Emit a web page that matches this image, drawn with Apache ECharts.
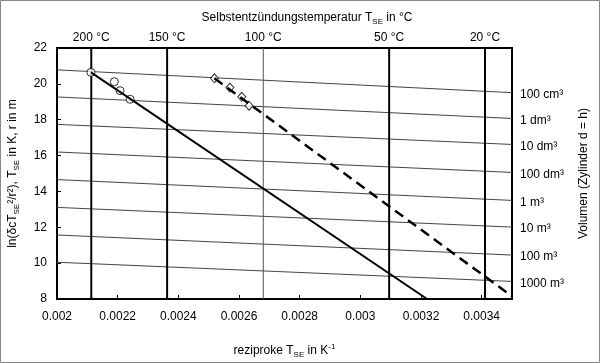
<!DOCTYPE html>
<html><head><meta charset="utf-8">
<script src="https://cdn.jsdelivr.net/npm/echarts@6/dist/echarts.min.js"></script>
<style>html,body{margin:0;padding:0;background:#fff}#c{width:600px;height:363px}</style>
</head><body><div id="c"></div>
<script>
// ---- data ----
const xTickMin = 0.002, xTickMax = 0.0035, xTickStep = 0.0002;
const yTickMin = 8, yTickMax = 22, yTickStep = 2;

const tempLabels = ['200 °C', '150 °C', '100 °C', '50 °C', '20 °C'];
const tempRecip  = [0.002113, 0.002363, 0.00268, 0.003095, 0.003411];

const volumeNames = ['100 cm³', '1 dm³', '10 dm³', '100 dm³', '1 m³', '10 m³', '100 m³', '1000 m³'];
const volumeX     = [0.002, 0.0035];
const volumeLeft  = [20.78, 19.27, 17.74, 16.20, 14.66, 13.11, 11.57, 10.05];
const volumeRight = [19.51, 18.07, 16.62, 15.06, 13.50, 12.01, 10.45, 8.98];

const circleX = [0.002112, 0.002189, 0.002208, 0.002241];
const circleY = [20.64, 20.12, 19.62, 19.14];
const diamondX = [0.002519, 0.002570, 0.002609, 0.002633];
const diamondY = [20.31, 19.79, 19.28, 18.78];

const solidX = [0.002112, 0.00322];
const solidY = [20.64, 8.0];
const dashX = [0.002519, 0.0035];
const dashY = [20.31, 8.15];

// ---- build chart ----
const FONT = 'Liberation Sans, Arial, sans-serif';
const rich = {
  n: {fontSize: 12, fontFamily: FONT, color: '#000', lineHeight: 16, verticalAlign: 'middle', fontWeight: 'normal'},
  sub: {fontSize: 8, fontFamily: FONT, color: '#000', lineHeight: 16, verticalAlign: 'bottom', fontWeight: 'normal'},
  sup: {fontSize: 8, fontFamily: FONT, color: '#000', lineHeight: 16, verticalAlign: 'top', fontWeight: 'normal'}
};
const zip = (a, b) => a.map((v, i) => [v, b[i]]);

const series = [];
volumeNames.forEach((name, i) => {
  const pts = zip(volumeX, [volumeLeft[i], volumeRight[i]]);
  series.push({
    type: 'line', name: name, symbol: 'circle', symbolSize: 0, showSymbol: true, silent: true, z: 2,
    lineStyle: {color: '#444', width: 1},
    itemStyle: {color: '#444'},
    data: [pts[0], {value: pts[1], label: {show: true, position: 'right', distance: 8, offset: [0, 2],
      formatter: name, color: '#000', fontSize: 12, fontFamily: FONT}}]
  });
});
tempLabels.forEach((lab, i) => {
  const thin = lab === '100 °C';
  series.push({
    type: 'line', name: lab, symbol: 'circle', symbolSize: 0, showSymbol: true, silent: true, z: 3,
    lineStyle: {color: thin ? '#555' : '#000', width: thin ? 1 : 2},
    itemStyle: {color: '#000'},
    data: [[tempRecip[i], yTickMin], {value: [tempRecip[i], yTickMax], label: {show: true, position: 'top', distance: 4,
      formatter: lab, color: '#000', fontSize: 12, fontFamily: FONT}}]
  });
});
series.push({type: 'scatter', symbol: 'circle', symbolSize: 8, z: 4,
  itemStyle: {color: '#fff', borderColor: '#000', borderWidth: 1}, data: zip(circleX, circleY)});
series.push({type: 'scatter', symbol: 'diamond', symbolSize: [8, 9], z: 4,
  itemStyle: {color: '#fff', borderColor: '#000', borderWidth: 1}, data: zip(diamondX, diamondY)});
series.push({type: 'line', symbol: 'none', z: 5, lineStyle: {color: '#000', width: 2}, data: zip(solidX, solidY)});
series.push({type: 'line', symbol: 'none', z: 5, lineStyle: {color: '#000', width: 2.5, type: [10, 6]}, data: zip(dashX, dashY)});

const chart = echarts.init(document.getElementById('c'), null, {renderer: 'canvas'});
chart.setOption({
  animation: false,
  backgroundColor: '#fff',
  textStyle: {fontFamily: FONT},
  title: {
    text: '{n|Selbstentzündungstemperatur T}{sub|SE}{n| in °C}',
    left: 302, top: 5, textAlign: 'center',
    textStyle: {rich: rich, fontWeight: 'normal'}
  },
  graphic: [{type: 'rect', shape: {x: 0.5, y: 0.5, width: 599, height: 362}, style: {fill: 'none', stroke: '#888', lineWidth: 1}, silent: true}],
  grid: {left: 57, right: 88, top: 48, bottom: 64, containLabel: false, outerBoundsMode: 'none',
    show: true, borderColor: '#000', borderWidth: 2, backgroundColor: 'transparent'},
  xAxis: {
    type: 'value', min: xTickMin, max: xTickMax, interval: xTickStep,
    splitLine: {show: false},
    axisLine: {lineStyle: {color: '#000', width: 2}},
    axisTick: {inside: true, length: 4, lineStyle: {color: '#000'}},
    axisLabel: {color: '#000', fontSize: 12, fontFamily: FONT, margin: 12,
      formatter: v => String(parseFloat(v.toFixed(4)))},
    name: '{n|reziproke T}{sub|SE}{n| in K}{sup|-1}',
    nameLocation: 'middle', nameGap: 44, nameTextStyle: {rich: rich}
  },
  yAxis: [{
    type: 'value', min: yTickMin, max: yTickMax, interval: yTickStep,
    splitLine: {show: false},
    axisLine: {show: true, lineStyle: {color: '#000', width: 2}},
    axisTick: {show: true, inside: true, length: 4, lineStyle: {color: '#000'}},
    axisLabel: {color: '#000', fontSize: 12, fontFamily: FONT, margin: 10},
    name: '{n|ln(δcT}{sub|SE}{n|²/r²), T}{sub|SE}{n| in K, r in m}',
    nameLocation: 'middle', nameRotate: 90, nameGap: 36, nameTextStyle: {rich: rich}
  }, {
    type: 'value', position: 'right', min: yTickMin, max: yTickMax,
    splitLine: {show: false}, axisLine: {show: false}, axisTick: {show: false}, axisLabel: {show: false},
    name: 'Volumen (Zylinder d = h)', nameLocation: 'middle', nameRotate: 90, nameGap: 66,
    nameTextStyle: {color: '#000', fontSize: 12, fontFamily: FONT}
  }],
  series: series
});
</script></body></html>
